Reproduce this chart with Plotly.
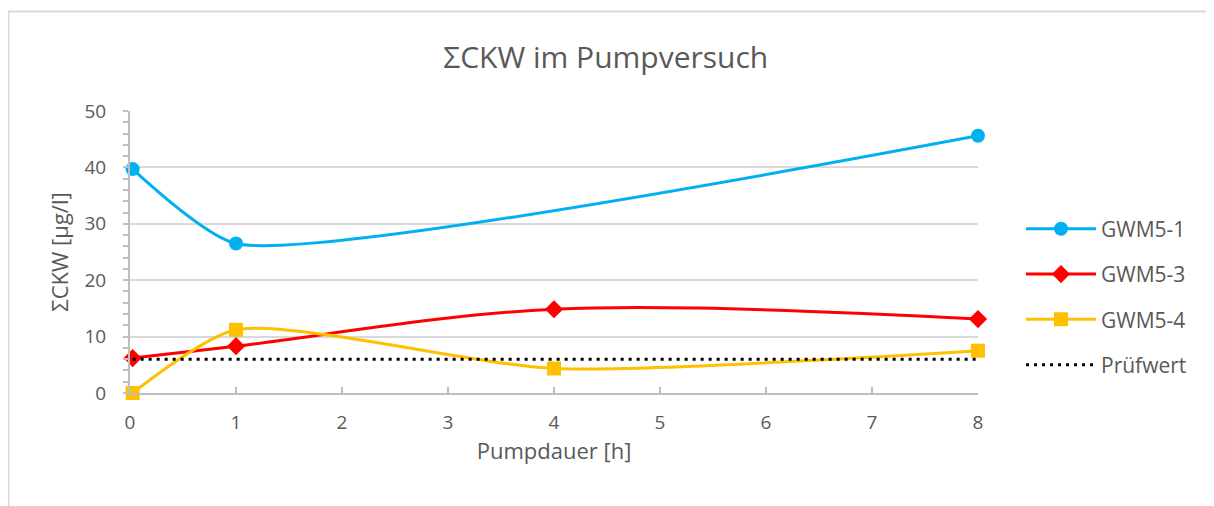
import plotly.graph_objects as go

# Data
x_gwm51 = [0.025, 1, 8]
y_gwm51 = [39.7, 26.5, 45.6]
x_gwm53 = [0.025, 1, 4, 8]
y_gwm53 = [6.2, 8.3, 14.85, 13.1]
x_gwm54 = [0.025, 1, 4, 8]
y_gwm54 = [0.0, 11.2, 4.35, 7.5]
x_pruef = [0.025, 8]
y_pruef = [6.0, 6.0]

FONT = "Open Sans"
TXT = "#595959"

fig = go.Figure()
fig.add_trace(go.Scatter(x=x_gwm51, y=y_gwm51, name="GWM5-1", mode="lines+markers",
                         line=dict(color="#00B0F0", width=3, shape="spline", smoothing=0.55),
                         marker=dict(symbol="circle", size=14, color="#00B0F0"),
                         legendgroup="a", cliponaxis=False))
fig.add_trace(go.Scatter(x=x_gwm53, y=y_gwm53, name="GWM5-3", mode="lines+markers",
                         line=dict(color="#FF0000", width=3, shape="spline", smoothing=1.0),
                         marker=dict(symbol="diamond", size=14, color="#FF0000"),
                         legendgroup="b", cliponaxis=False))
fig.add_trace(go.Scatter(x=x_gwm54, y=y_gwm54, name="GWM5-4", mode="lines+markers",
                         line=dict(color="#FFC000", width=3, shape="spline", smoothing=0.65),
                         marker=dict(symbol="square", size=14, color="#FFC000"),
                         legendgroup="c", cliponaxis=False))
fig.add_trace(go.Scatter(x=x_pruef, y=y_pruef, name="Prüfwert", mode="lines",
                         line=dict(color="#000000", width=3, dash="3px,5px"),
                         legendgroup="d", cliponaxis=False))

fig.update_layout(
    width=1214, height=506,
    margin=dict(l=122, r=244, t=103, b=121),
    paper_bgcolor="white", plot_bgcolor="white",
    font=dict(family=FONT, size=19, color=TXT),
    title=dict(text="ΣCKW im Pumpversuch", x=0.561, xref="paper", xanchor="center",
               y=1 - 49 / 506, yref="container", yanchor="middle",
               font=dict(family=FONT, size=30, color=TXT)),
    xaxis=dict(range=[0, 8], tickmode="array", tickvals=[0, 1, 2, 3, 4, 5, 6, 7, 8],
               showgrid=False, zeroline=False, showline=True, linecolor="#BFBFBF", linewidth=2,
               ticks="inside", ticklen=6, tickcolor="#BFBFBF", tickwidth=2,
               ticklabelstandoff=11,
               title=dict(text="Pumpdauer [h]", font=dict(family=FONT, size=22, color=TXT), standoff=10)),
    yaxis=dict(range=[0, 50], tickmode="array", tickvals=[0, 10, 20, 30, 40, 50],
               showgrid=True, gridcolor="#D9D9D9", gridwidth=2, zeroline=False,
               showline=True, linecolor="#BFBFBF", linewidth=2,
               ticks="", ticklabelstandoff=18,
               minor=dict(dtick=2, ticks="outside", ticklen=5, tickcolor="#BFBFBF", tickwidth=2, showgrid=False),
               title=dict(text="ΣCKW [µg/l]", font=dict(family=FONT, size=22, color=TXT), standoff=10)),
    legend=dict(x=1.0507, xanchor="left", y=0.34, yanchor="middle", traceorder="grouped",
                tracegroupgap=15, itemwidth=70, font=dict(family=FONT, size=21, color=TXT),
                bgcolor="rgba(0,0,0,0)"),
    shapes=[dict(type="rect", xref="paper", yref="paper", x0=-0.1433, x1=1.6, y0=-1.0, y1=1.3528,
                 line=dict(color="#D9D9D9", width=2), fillcolor="rgba(0,0,0,0)", layer="below")],
)

fig.write_html("out.html")
